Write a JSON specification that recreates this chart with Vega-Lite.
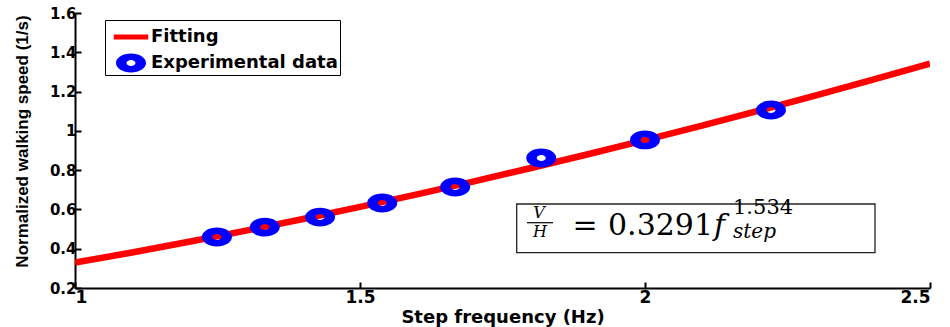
{
  "$schema": "https://vega.github.io/schema/vega-lite/v6.json",
  "autosize": "none",
  "width": 855,
  "height": 275,
  "padding": {"left": 75, "top": 13, "right": 20, "bottom": 39},
  "background": "white",
  "config": {
    "view": {"stroke": null},
    "axis": {
      "grid": false,
      "domainColor": "black",
      "domainWidth": 2,
      "tickColor": "black",
      "tickWidth": 2,
      "tickSize": -6,
      "labelFont": "DejaVu Sans",
      "labelFontWeight": "bold",
      "labelFontSize": 17,
      "labelColor": "black",
      "titleFont": "DejaVu Sans",
      "titleFontWeight": "bold",
      "titleColor": "black"
    },
    "legend": {
      "orient": "none",
      "legendX": 30,
      "legendY": 7,
      "padding": 2,
      "rowPadding": 2,
      "symbolSize": 900,
      "symbolOffset": 9,
      "symbolStrokeWidth": 0,
      "labelFont": "DejaVu Sans",
      "labelFontWeight": "bold",
      "labelFontSize": 18,
      "labelColor": "black",
      "labelOffset": 5,
      "labelLimit": 400,
      "titleOrient": "right",
      "titlePadding": 0,
      "titleFont": "DejaVu Sans",
      "titleFontSize": 18,
      "titleFontWeight": "bold",
      "strokeColor": "black",
      "fillColor": "white"
    }
  },
  "encoding": {
    "x": {
      "field": "f",
      "type": "quantitative",
      "scale": {"domain": [1, 2.5], "nice": false, "zero": false},
      "axis": {
        "title": "Step frequency (Hz)",
        "titleFontSize": 18,
        "titlePadding": 3,
        "values": [1, 1.5, 2, 2.5],
        "format": "~g",
        "labelPadding": 7
      }
    },
    "y": {
      "field": "v",
      "type": "quantitative",
      "scale": {"domain": [0.2, 1.6], "nice": false, "zero": false},
      "axis": {
        "title": "Normalized walking speed (1/s)",
        "titleFont": "Liberation Sans",
        "titleFontSize": 17,
        "titleX": -53,
        "titleY": 128,
        "titleAngle": -90,
        "titleAlign": "center",
        "titleBaseline": "middle",
        "values": [0.2, 0.4, 0.6, 0.8, 1, 1.2, 1.4, 1.6],
        "format": "~g",
        "labelFontSize": 15,
        "labelPadding": 5
      }
    }
  },
  "layer": [
    {
      "data": {"values": [
        {"f": 1.0, "v": 0.3291, "series": "Fitting"},
        {"f": 1.1, "v": 0.3809, "series": "Fitting"},
        {"f": 1.2, "v": 0.4353, "series": "Fitting"},
        {"f": 1.3, "v": 0.4922, "series": "Fitting"},
        {"f": 1.4, "v": 0.5514, "series": "Fitting"},
        {"f": 1.5, "v": 0.6130, "series": "Fitting"},
        {"f": 1.6, "v": 0.6767, "series": "Fitting"},
        {"f": 1.7, "v": 0.7427, "series": "Fitting"},
        {"f": 1.8, "v": 0.8108, "series": "Fitting"},
        {"f": 1.9, "v": 0.8809, "series": "Fitting"},
        {"f": 2.0, "v": 0.9530, "series": "Fitting"},
        {"f": 2.1, "v": 1.0271, "series": "Fitting"},
        {"f": 2.2, "v": 1.1031, "series": "Fitting"},
        {"f": 2.3, "v": 1.1809, "series": "Fitting"},
        {"f": 2.4, "v": 1.2605, "series": "Fitting"},
        {"f": 2.5, "v": 1.3420, "series": "Fitting"}
      ]},
      "mark": {"type": "line", "strokeWidth": 6.5, "clip": true},
      "encoding": {
        "color": {
          "field": "series",
          "type": "nominal",
          "scale": {"domain": ["Fitting", "Experimental data"], "range": ["#ff0000", "#0000ff"]},
          "legend": {"title": "\u00a0\u00a0\u00a0\u00a0\u00a0\u00a0\u00a0\u00a0\u00a0"}
        }
      }
    },
    {
      "data": {"values": [
        {"f": 1.249, "v": 0.460, "series": "Experimental data"},
        {"f": 1.333, "v": 0.510, "series": "Experimental data"},
        {"f": 1.430, "v": 0.561, "series": "Experimental data"},
        {"f": 1.539, "v": 0.633, "series": "Experimental data"},
        {"f": 1.667, "v": 0.714, "series": "Experimental data"},
        {"f": 1.818, "v": 0.862, "series": "Experimental data"},
        {"f": 2.000, "v": 0.954, "series": "Experimental data"},
        {"f": 2.221, "v": 1.106, "series": "Experimental data"}
      ]},
      "mark": {"type": "point", "filled": true, "opacity": 1, "size": 900},
      "encoding": {
        "color": {
          "field": "series",
          "type": "nominal",
          "legend": {"title": "\u00a0\u00a0\u00a0\u00a0\u00a0\u00a0\u00a0\u00a0\u00a0"}
        },
        "shape": {
          "field": "series",
          "type": "nominal",
          "scale": {
            "domain": ["Fitting", "Experimental data"],
            "range": [
              "M-1.15,-0.17L1.15,-0.17L1.15,0.17L-1.15,0.17Z",
              "M-1,0A1,0.63,0,1,1,1,0A1,0.63,0,1,1,-1,0ZM-0.3,0A0.3,0.2,0,1,0,0.3,0A0.3,0.2,0,1,0,-0.3,0Z"
            ]
          },
          "legend": {"title": "\u00a0\u00a0\u00a0\u00a0\u00a0\u00a0\u00a0\u00a0\u00a0"}
        }
      }
    },
    {
      "data": {"values": [{"f": 1.7749, "f2": 2.4035, "v": 0.3797, "v2": 0.6276}]},
      "mark": {"type": "rect", "filled": false, "color": "#222222", "strokeWidth": 1.3},
      "encoding": {
        "x2": {"field": "f2"},
        "y2": {"field": "v2"}
      }
    },
    {
      "data": {"values": [{"f": 1.793, "f2": 1.8386, "v": 0.5324}]},
      "mark": {"type": "rule", "color": "black", "strokeWidth": 1.2},
      "encoding": {
        "x2": {"field": "f2"}
      }
    },
    {
      "data": {"values": [
        {"f": 1.814, "v": 0.5564, "label": "V"},
        {"f": 1.8158, "v": 0.4596, "label": "H"}
      ]},
      "mark": {"type": "text", "font": "DejaVu Serif", "fontStyle": "italic", "fontSize": 16, "align": "center", "baseline": "alphabetic", "color": "black"},
      "encoding": {"text": {"field": "label"}}
    },
    {
      "data": {"values": [
        {"f": 1.8947, "v": 0.4698, "label": "="}
      ]},
      "mark": {"type": "text", "font": "DejaVu Serif", "fontSize": 30, "align": "center", "baseline": "alphabetic", "color": "black"},
      "encoding": {"text": {"field": "label"}}
    },
    {
      "data": {"values": [
        {"f": 1.9351, "v": 0.4698, "label": "0.3291"}
      ]},
      "mark": {"type": "text", "font": "DejaVu Serif", "fontSize": 30, "align": "left", "baseline": "alphabetic", "color": "black"},
      "encoding": {"text": {"field": "label"}}
    },
    {
      "data": {"values": [
        {"f": 2.1211, "v": 0.4698, "label": "f"}
      ]},
      "mark": {"type": "text", "font": "DejaVu Serif", "fontStyle": "italic", "fontSize": 30, "align": "left", "baseline": "alphabetic", "color": "black"},
      "encoding": {"text": {"field": "label"}}
    },
    {
      "data": {"values": [
        {"f": 2.1544, "v": 0.5765, "label": "1.534"}
      ]},
      "mark": {"type": "text", "font": "DejaVu Serif", "fontSize": 21, "align": "left", "baseline": "alphabetic", "color": "black"},
      "encoding": {"text": {"field": "label"}}
    },
    {
      "data": {"values": [
        {"f": 2.1544, "v": 0.4545, "label": "step"}
      ]},
      "mark": {"type": "text", "font": "DejaVu Serif", "fontStyle": "italic", "fontSize": 20, "align": "left", "baseline": "alphabetic", "color": "black"},
      "encoding": {"text": {"field": "label"}}
    }
  ]
}
